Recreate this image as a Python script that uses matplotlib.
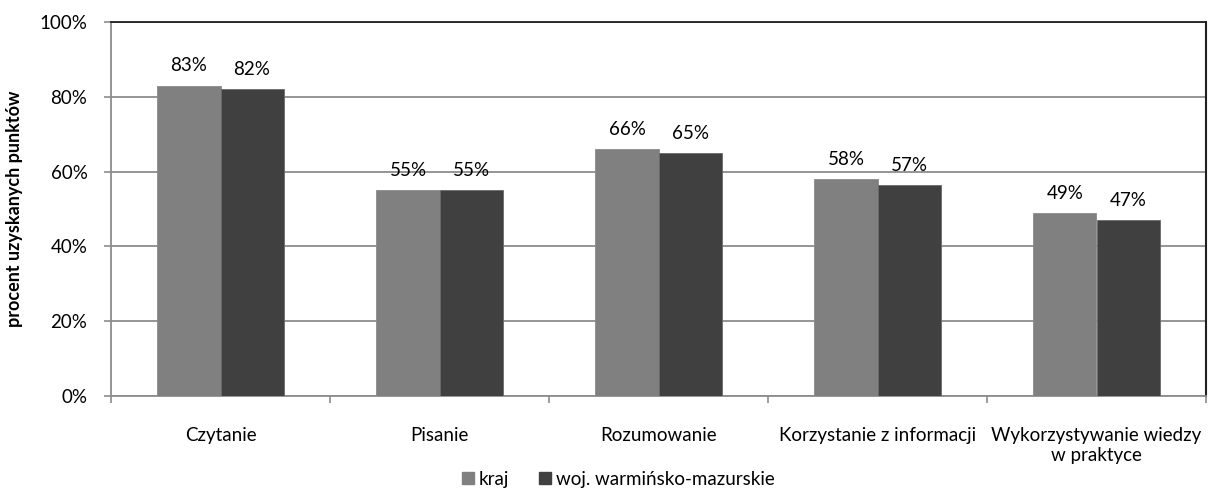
import matplotlib
matplotlib.use("Agg")
import matplotlib.pyplot as plt
import numpy as np
from matplotlib.patches import Patch

plt.rcParams['font.family'] = ['Lato', 'DejaVu Sans']

categories = ["Czytanie", "Pisanie", "Rozumowanie", "Korzystanie z informacji",
              "Wykorzystywanie wiedzy\nw praktyce"]
kraj = [83, 55, 66, 58, 49]
woj = [82, 55, 65, 56.5, 47]
kraj_labels = ["83%", "55%", "66%", "58%", "49%"]
woj_labels = ["82%", "55%", "65%", "57%", "47%"]
series_names = ["kraj", "woj. warmińsko-mazurskie"]
yticks = [0, 20, 40, 60, 80, 100]

c_kraj = "#808080"
c_woj = "#404040"
grid_c = "#8c8c8c"
fs = 13.5

W, H = 1208, 491
fig = plt.figure(figsize=(W / 100, H / 100), dpi=100)
ax = fig.add_axes([111 / W, (H - 396) / H, 1095 / W, 374 / H])

x = np.arange(len(categories))
bw = 0.288
ax.bar(x - bw / 2, kraj, bw, color=c_kraj, edgecolor="#8a8a8a", linewidth=0.6, zorder=3)
ax.bar(x + bw / 2, woj, bw, color=c_woj, edgecolor="#6a6a6a", linewidth=0.6, zorder=3)

for i in range(len(categories)):
    ax.annotate(kraj_labels[i], (x[i] - bw / 2, kraj[i]), xytext=(0, 8),
                textcoords="offset points", ha="center", va="bottom", fontsize=fs)
    ax.annotate(woj_labels[i], (x[i] + bw / 2, woj[i]), xytext=(0, 8),
                textcoords="offset points", ha="center", va="bottom", fontsize=fs)

ax.set_xlim(-0.5, len(categories) - 0.5)
ax.set_ylim(0, 100)
ax.set_yticks(yticks)
ax.set_yticklabels([f"{t}%" for t in yticks], fontsize=fs)
ax.yaxis.grid(True, color=grid_c, linewidth=1.3, zorder=0)
ax.set_axisbelow(True)

ax.set_xticks(x)
ax.set_xticklabels(categories, fontsize=fs, linespacing=1.25)
ax.tick_params(axis="x", length=0, pad=22)
ax.set_xticks(np.arange(len(categories) + 1) - 0.5, minor=True)
ax.tick_params(axis="x", which="minor", length=5, color=grid_c, width=1.2)
ax.tick_params(axis="y", length=5, color=grid_c, width=1.2, pad=12)

ax.spines["left"].set_color(grid_c)
ax.spines["left"].set_linewidth(1.3)
ax.spines["bottom"].set_color(grid_c)
ax.spines["bottom"].set_linewidth(1.3)
ax.spines["top"].set_color("#202020")
ax.spines["top"].set_linewidth(1.3)
ax.spines["right"].set_color("#202020")
ax.spines["right"].set_linewidth(1.5)

ax.set_ylabel("procent uzyskanych punktów", fontsize=fs - 0.5, fontweight="bold", labelpad=12)

handles = [Patch(facecolor=c_kraj, edgecolor=c_kraj), Patch(facecolor=c_woj, edgecolor=c_woj)]
fig.legend(handles, series_names, loc="center", bbox_to_anchor=(618 / W, 1 - 479 / H),
           ncol=2, frameon=False, fontsize=fs, handlelength=0.65, handleheight=0.65,
           handletextpad=0.25, columnspacing=1.6, borderpad=0)

fig.savefig("out.png", dpi=100)
